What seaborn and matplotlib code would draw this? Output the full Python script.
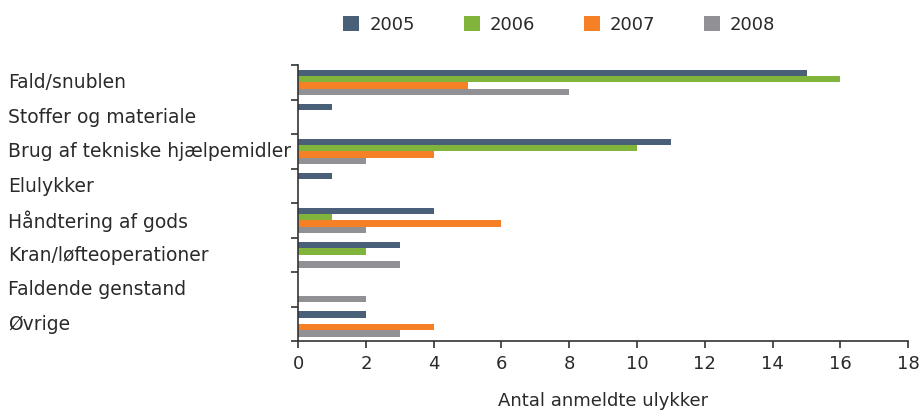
import pandas as pd
import numpy as np
import matplotlib
matplotlib.use("Agg")
import matplotlib.pyplot as plt
import matplotlib.transforms as mtransforms
import seaborn as sns

kategorier = ["Fald/snublen", "Stoffer og materiale", "Brug af tekniske hjælpemidler",
              "Elulykker", "Håndtering af gods", "Kran/løfteoperationer",
              "Faldende genstand", "Øvrige"]
aar = ["2005", "2006", "2007", "2008"]
v2005 = [15, 1, 11, 1, 4, 3, 0, 2]
v2006 = [16, 0, 10, 0, 1, 2, 0, 0]
v2007 = [5, 0, 4, 0, 6, 0, 0, 4]
v2008 = [8, 0, 2, 0, 2, 3, 2, 3]
farver = ["#4a6079", "#80b43a", "#f58025", "#909095"]

rows = []
for a, vals in zip(aar, [v2005, v2006, v2007, v2008]):
    for k, v in zip(kategorier, vals):
        rows.append({"kategori": k, "aar": a, "antal": v})
df = pd.DataFrame(rows)

sns.set_style("ticks")
plt.rcParams["font.family"] = ["DejaVu Sans"]
tekst = "#2a2a2a"
fs = 13

fig = plt.figure(figsize=(9.23, 4.12), dpi=100)
ax = fig.add_axes([0.323, 0.172, 0.661, 0.670])

sns.barplot(data=df, y="kategori", x="antal", hue="aar", order=kategorier,
            hue_order=aar, palette=farver, orient="h", width=0.74,
            saturation=1, linewidth=0, ax=ax, legend=True)

ax.set_xlim(0, 18)
ax.set_xticks(range(0, 19, 2))
ax.set_ylim(len(kategorier) - 0.5, -0.5)
ax.set_ylabel("")
ax.set_xlabel("Antal anmeldte ulykker", fontsize=fs, color=tekst, labelpad=14)

sns.despine(ax=ax)
for s in ["left", "bottom"]:
    ax.spines[s].set_color("#333333")
    ax.spines[s].set_linewidth(1.2)

ax.tick_params(axis="x", direction="out", length=5, width=1.2, colors="#333333",
               labelsize=fs, labelcolor=tekst, pad=5)
ax.tick_params(axis="y", which="major", length=0, labelsize=13.5,
               labelcolor=tekst, pad=209)
ax.set_yticks(np.arange(-0.5, len(kategorier), 1), minor=True)
ax.tick_params(axis="y", which="minor", direction="out", length=5, width=1.2,
               colors="#333333")
offset = mtransforms.ScaledTranslation(0, 1 / 72, fig.dpi_scale_trans)
for lab in ax.get_yticklabels():
    lab.set_ha("left")
    lab.set_transform(lab.get_transform() + offset)

handles, labels = ax.get_legend_handles_labels()
ax.get_legend().remove()
fig.legend(handles, labels, loc="center", bbox_to_anchor=(0.606, 0.939),
           ncol=4, frameon=False, fontsize=fs, handlelength=0.89,
           handleheight=0.89, columnspacing=2.7, handletextpad=0.55,
           labelcolor=tekst)

fig.savefig("out.png", dpi=100)
